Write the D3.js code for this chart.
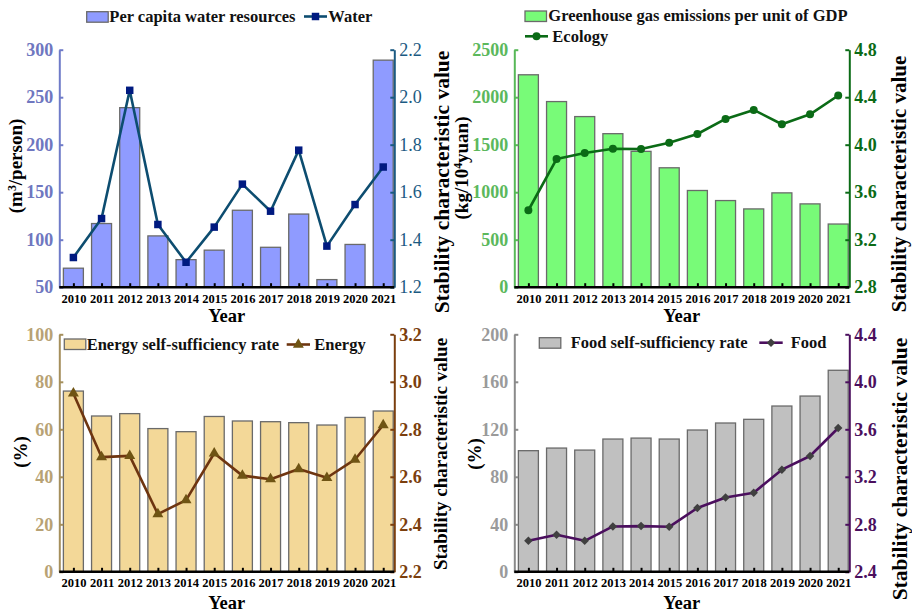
<!DOCTYPE html>
<html>
<head>
<meta charset="utf-8">
<script src="https://cdn.jsdelivr.net/npm/d3@7"></script>
<style>
  body { margin: 0; background: #fff; }
  svg text { font-family: "Times New Roman", "Liberation Serif", serif; }
</style>
</head>
<body>
<svg id="chart" width="912" height="614"></svg>
<script>
// ---- data ----
const years = [2010, 2011, 2012, 2013, 2014, 2015, 2016, 2017, 2018, 2019, 2020, 2021];

const waterPerCapita   = [70, 117, 239, 104, 79, 89, 131, 92, 127, 58, 95, 289];
const waterStability   = [1.325, 1.489, 2.029, 1.464, 1.305, 1.453, 1.634, 1.520, 1.777, 1.373, 1.548, 1.706];

const ghgPerGDP        = [2236, 1954, 1796, 1616, 1430, 1257, 1018, 912, 824, 993, 877, 665];
const ecologyStability = [3.448, 3.879, 3.930, 3.966, 3.963, 4.017, 4.090, 4.217, 4.293, 4.172, 4.256, 4.414];

const energySelfRate   = [76.1, 65.6, 66.6, 60.3, 59.0, 65.4, 63.5, 63.2, 62.8, 61.8, 65.0, 67.7];
const energyStability  = [2.951, 2.683, 2.688, 2.443, 2.502, 2.699, 2.605, 2.590, 2.633, 2.596, 2.673, 2.818];

const foodSelfRate     = [102.0, 104.2, 102.5, 111.8, 112.6, 111.8, 119.4, 125.3, 128.4, 139.6, 148.0, 169.7];
const foodStability    = [2.661, 2.712, 2.661, 2.782, 2.785, 2.779, 2.937, 3.026, 3.066, 3.260, 3.375, 3.611];

// tick labels
const waterLeftTicks   = [50, 100, 150, 200, 250, 300];
const waterRightTicks  = [1.2, 1.4, 1.6, 1.8, 2.0, 2.2];
const ghgLeftTicks     = [0, 500, 1000, 1500, 2000, 2500];
const ecoRightTicks    = [2.8, 3.2, 3.6, 4.0, 4.4, 4.8];
const energyLeftTicks  = [0, 20, 40, 60, 80, 100];
const energyRightTicks = [2.2, 2.4, 2.6, 2.8, 3.0, 3.2];
const foodLeftTicks    = [0, 40, 80, 120, 160, 200];
const foodRightTicks   = [2.4, 2.8, 3.2, 3.6, 4.0, 4.4];

// ---- layout ----
const W = 335, H = 237.5;
const svg = d3.select("#chart");
const fmt1 = d3.format(".1f");

const panels = [
  {
    x: 59.3, y: 49.7,
    bars: waterPerCapita, line: waterStability,
    leftDomain: [50, 300], leftTicks: waterLeftTicks,
    rightDomain: [1.2, 2.2], rightTicks: waterRightTicks,
    barFill: "#8f9bff", leftAxis: "#6f7bc8", leftText: "#6f77c0",
    rightAxis: "#1b5a82", rightText: "#1b5a82", rightWeight: "normal",
    lineColor: "#0d4d70", markColor: "#001a80",
    symbol: d3.symbolSquare, symSize: 56, symRotate: 0,
    leftTitle: ["(m", "3", "/person)"], leftTitlePos: [15.8, 166], leftTitleSize: 19,
    rightTitlePos: [441.7, 182], rightTitleSize: 21.5,
    yearOffset: 34.5,
    legend: [
      { type: "bar", x: 86.7, y: 11.7, text: "Per capita water resources", tx: 109.3, ty: 21.7 },
      { type: "line", x: 304, y: 16.5, w: 23, text: "Water", tx: 328.3, ty: 21.7 }
    ]
  },
  {
    x: 514.3, y: 49.7,
    bars: ghgPerGDP, line: ecologyStability,
    leftDomain: [0, 2500], leftTicks: ghgLeftTicks,
    rightDomain: [2.8, 4.8], rightTicks: ecoRightTicks,
    barFill: "#78fb78", leftAxis: "#57b857", leftText: "#5cb85c",
    rightAxis: "#0b6b16", rightText: "#0b6b16", rightWeight: "bold",
    lineColor: "#0b6b16", markColor: "#0b6b16",
    symbol: d3.symbolCircle, symSize: 50, symRotate: 0,
    leftTitle: ["(kg/10", "4", "yuan)"], leftTitlePos: [461.5, 168], leftTitleSize: 19,
    rightTitlePos: [899, 184], rightTitleSize: 21,
    yearOffset: 34.5,
    legend: [
      { type: "bar", x: 525, y: 11, text: "Greenhouse gas emissions per unit of GDP", tx: 548.3, ty: 21.3 },
      { type: "line", x: 525, y: 36.3, w: 23, text: "Ecology", tx: 552.3, ty: 42 }
    ]
  },
  {
    x: 59.3, y: 334.3,
    bars: energySelfRate, line: energyStability,
    leftDomain: [0, 100], leftTicks: energyLeftTicks,
    rightDomain: [2.2, 3.2], rightTicks: energyRightTicks,
    barFill: "#f3d898", leftAxis: "#a58f5c", leftText: "#b8a274",
    rightAxis: "#7b3f0e", rightText: "#7b3f0e", rightWeight: "bold",
    lineColor: "#6e3510", markColor: "#6f5414",
    symbol: d3.symbolTriangle, symSize: 52, symRotate: 0,
    leftTitle: ["(%)"], leftTitlePos: [20.5, 452], leftTitleSize: 19,
    rightTitlePos: [440, 454], rightTitleSize: 19,
    yearOffset: 37.5,
    legend: [
      { type: "bar", x: 64.3, y: 339, text: "Energy self-sufficiency rate", tx: 86.7, ty: 350 },
      { type: "line", x: 286.7, y: 344.5, w: 23.3, text: "Energy", tx: 314.3, ty: 350 }
    ]
  },
  {
    x: 514.3, y: 334.3,
    bars: foodSelfRate, line: foodStability,
    leftDomain: [0, 200], leftTicks: foodLeftTicks,
    rightDomain: [2.4, 4.4], rightTicks: foodRightTicks,
    barFill: "#c0c0c0", leftAxis: "#8a8a8a", leftText: "#9a9a9a",
    rightAxis: "#4b0f5e", rightText: "#4b0f5e", rightWeight: "bold",
    lineColor: "#4b0f5e", markColor: "#404040",
    symbol: d3.symbolSquare, symSize: 36, symRotate: 45,
    leftTitle: ["(%)"], leftTitlePos: [474.5, 454], leftTitleSize: 19,
    rightTitlePos: [899, 469], rightTitleSize: 21.5,
    yearOffset: 37.5,
    legend: [
      { type: "bar", x: 539.3, y: 337.7, text: "Food self-sufficiency rate", tx: 570.7, ty: 348.3 },
      { type: "line", x: 759.3, y: 342.7, w: 23.4, text: "Food", tx: 790.7, ty: 348.3 }
    ]
  }
];

function markerPath(p) {
  return d3.symbol().type(p.symbol).size(p.symSize)();
}

function drawPanel(p) {
  const g = svg.append("g").attr("transform", `translate(${p.x},${p.y})`);
  const x = d3.scalePoint().domain(years).range([0, W + 3]).padding(0.5);
  const yL = d3.scaleLinear().domain(p.leftDomain).range([H, 0]);
  const yR = d3.scaleLinear().domain(p.rightDomain).range([H, 0]);
  const bw = x.step() * 0.71;

  // bars
  g.append("g").selectAll("rect")
    .data(p.bars)
    .join("rect")
      .attr("x", (d, i) => x(years[i]) - bw / 2)
      .attr("y", d => yL(d))
      .attr("width", bw)
      .attr("height", d => H - yL(d))
      .attr("fill", p.barFill)
      .attr("stroke", "#6a6a6a")
      .attr("stroke-width", 1.3);

  // left axis
  const gl = g.append("g")
    .call(d3.axisLeft(yL).tickValues(p.leftTicks).tickSize(-4).tickSizeOuter(0).tickPadding(6).tickFormat(d3.format("d")));
  gl.select(".domain").attr("stroke", p.leftAxis).attr("stroke-width", 2);
  gl.selectAll(".tick line").attr("stroke", p.leftAxis).attr("stroke-width", 2);
  gl.selectAll(".tick text").attr("fill", p.leftText).attr("font-size", 18).attr("font-weight", "bold");

  // right axis
  const gr = g.append("g").attr("transform", `translate(${W},0)`)
    .call(d3.axisRight(yR).tickValues(p.rightTicks).tickSize(-4).tickSizeOuter(0).tickPadding(5).tickFormat(fmt1));
  gr.select(".domain").attr("stroke", p.rightAxis).attr("stroke-width", 2);
  gr.selectAll(".tick line").attr("stroke", p.rightAxis).attr("stroke-width", 2);
  gr.selectAll(".tick text").attr("fill", p.rightText).attr("font-size", 18).attr("font-weight", p.rightWeight);

  // bottom axis
  const gb = g.append("g").attr("transform", `translate(0,${H})`)
    .call(d3.axisBottom(x).tickSize(-4).tickSizeOuter(0).tickPadding(6.6));
  gb.select(".domain").remove();
  gb.selectAll(".tick line").attr("stroke", "#000").attr("stroke-width", 2);
  gb.selectAll(".tick text").attr("fill", "#000").attr("font-size", 12.5).attr("font-weight", "bold");
  gb.append("line").attr("x1", 0).attr("x2", W).attr("y1", 0).attr("y2", 0)
    .attr("stroke", "#000").attr("stroke-width", 2.5);

  // stability line
  const line = d3.line().x((d, i) => x(years[i])).y(d => yR(d));
  g.append("path").datum(p.line)
    .attr("d", line)
    .attr("fill", "none")
    .attr("stroke", p.lineColor)
    .attr("stroke-width", 2.6)
    .attr("stroke-linejoin", "round");
  g.append("g").selectAll("path")
    .data(p.line)
    .join("path")
      .attr("d", markerPath(p))
      .attr("transform", (d, i) => `translate(${x(years[i])},${yR(d)}) rotate(${p.symRotate})`)
      .attr("fill", p.markColor);

  // axis titles
  g.append("text")
    .attr("x", W / 2).attr("y", H + p.yearOffset)
    .attr("text-anchor", "middle")
    .attr("font-size", 18.5).attr("font-weight", "bold")
    .text("Year");

  const lt = svg.append("text")
    .attr("transform", `translate(${p.leftTitlePos[0]},${p.leftTitlePos[1]}) rotate(-90)`)
    .attr("dy", "0.35em")
    .attr("text-anchor", "middle")
    .attr("font-size", p.leftTitleSize).attr("font-weight", "bold");
  p.leftTitle.forEach((s, i) => {
    const t = lt.append("tspan").text(s);
    if (i === 1) t.attr("font-size", p.leftTitleSize * 0.62).attr("dy", "-0.55em");
    if (i === 2) t.attr("dy", "0.34em");
  });

  svg.append("text")
    .attr("transform", `translate(${p.rightTitlePos[0]},${p.rightTitlePos[1]}) rotate(-90)`)
    .attr("dy", "0.35em")
    .attr("text-anchor", "middle")
    .attr("font-size", p.rightTitleSize).attr("font-weight", "bold")
    .text("Stability characteristic value");

  // legend
  p.legend.forEach(l => {
    if (l.type === "bar") {
      svg.append("rect")
        .attr("x", l.x).attr("y", l.y).attr("width", 21.5).attr("height", 10.5)
        .attr("fill", p.barFill).attr("stroke", "#6a6a6a").attr("stroke-width", 1.3);
    } else {
      svg.append("line")
        .attr("x1", l.x).attr("x2", l.x + l.w).attr("y1", l.y).attr("y2", l.y)
        .attr("stroke", p.lineColor).attr("stroke-width", 2.6);
      svg.append("path")
        .attr("d", markerPath(p))
        .attr("transform", `translate(${l.x + l.w / 2},${l.y}) rotate(${p.symRotate})`)
        .attr("fill", p.markColor);
    }
    svg.append("text")
      .attr("x", l.tx).attr("y", l.ty)
      .attr("font-size", 16.5).attr("font-weight", "bold")
      .attr("fill", "#111")
      .text(l.text);
  });
}

panels.forEach(drawPanel);
</script>
</body>
</html>
